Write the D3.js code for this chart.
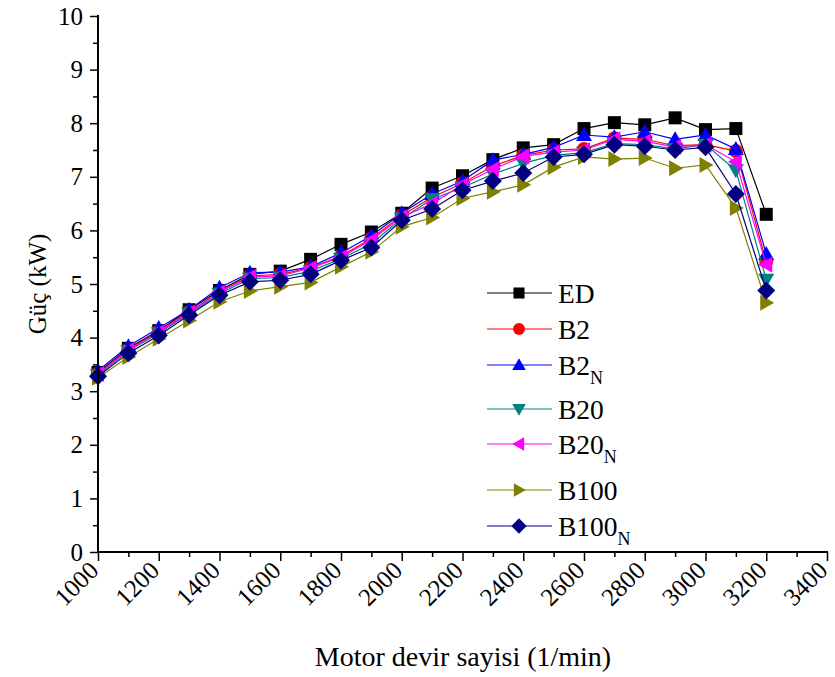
<!DOCTYPE html>
<html>
<head>
<meta charset="utf-8">
<script src="https://cdn.jsdelivr.net/npm/d3@7"></script>
<style>
  html, body { margin: 0; padding: 0; background: #fff; }
  svg { display: block; }
  text { font-family: "Liberation Serif", "Times New Roman", serif; fill: #000; }
</style>
</head>
<body>
<svg id="chart" width="835" height="677"></svg>
<script>
// Engine speed (1/min)
const rpm = [1000, 1100, 1200, 1300, 1400, 1500, 1600, 1700, 1800, 1900, 2000, 2100,
             2200, 2300, 2400, 2500, 2600, 2700, 2800, 2900, 3000, 3100, 3200];

// Power (kW) for each fuel
const ED    = [3.35, 3.80, 4.13, 4.52, 4.88, 5.18, 5.24, 5.46, 5.74, 5.97, 6.32, 6.79, 7.02, 7.32, 7.54, 7.60, 7.90, 8.01, 7.97, 8.10, 7.88, 7.90, 6.30];
const B2    = [3.33, 3.78, 4.12, 4.48, 4.85, 5.15, 5.18, 5.30, 5.52, 5.85, 6.28, 6.62, 6.88, 7.20, 7.40, 7.50, 7.52, 7.72, 7.70, 7.58, 7.60, 7.48, 5.42];
const B2N   = [3.38, 3.84, 4.18, 4.52, 4.93, 5.21, 5.22, 5.32, 5.58, 5.90, 6.32, 6.68, 6.92, 7.31, 7.42, 7.55, 7.78, 7.74, 7.84, 7.70, 7.78, 7.52, 5.56];
const B20   = [3.30, 3.75, 4.08, 4.45, 4.82, 5.10, 5.12, 5.24, 5.47, 5.75, 6.22, 6.58, 6.80, 7.05, 7.25, 7.40, 7.45, 7.62, 7.60, 7.52, 7.60, 7.12, 5.08];
const B20N  = [3.32, 3.77, 4.10, 4.47, 4.85, 5.13, 5.15, 5.30, 5.50, 5.82, 6.25, 6.50, 6.85, 7.14, 7.38, 7.46, 7.50, 7.70, 7.66, 7.56, 7.60, 7.28, 5.36];
const B100  = [3.25, 3.64, 3.98, 4.32, 4.67, 4.87, 4.95, 5.03, 5.32, 5.60, 6.07, 6.24, 6.60, 6.72, 6.85, 7.18, 7.37, 7.33, 7.35, 7.16, 7.22, 6.42, 4.65];
const B100N = [3.28, 3.71, 4.04, 4.42, 4.79, 5.04, 5.07, 5.18, 5.44, 5.68, 6.19, 6.40, 6.75, 6.92, 7.07, 7.37, 7.42, 7.60, 7.57, 7.50, 7.55, 6.68, 4.88];

// Axis ticks
const xTicks = [1000, 1200, 1400, 1600, 1800, 2000, 2200, 2400, 2600, 2800, 3000, 3200, 3400];
const yTicks = [0, 1, 2, 3, 4, 5, 6, 7, 8, 9, 10];

// Series: name, subscript, values, colour, marker
const seriesNames  = ["ED", "B2", "B2", "B20", "B20", "B100", "B100"];
const seriesSubs   = ["", "", "N", "", "N", "", "N"];
const seriesValues = [ED, B2, B2N, B20, B20N, B100, B100N];
const seriesColors = ["#000000", "#ff0000", "#0000ff", "#008080", "#ff00ff", "#808000", "#000080"];
const seriesShapes = ["square", "circle", "up", "down", "left", "right", "diamond"];

const svg = d3.select("#chart");
const plotLeft = 98, plotRight = 827, plotTop = 16, plotBottom = 552;

const x = d3.scaleLinear().domain([1000, 3400]).range([plotLeft, plotRight]);
const y = d3.scaleLinear().domain([0, 10]).range([plotBottom, plotTop]);

// Marker path generators (centred on 0,0)
function markerPath(shape) {
  switch (shape) {
    case "square":  return "M-6.5,-6.5H6.5V6.5H-6.5Z";
    case "circle":  return "M-7,0A7,7 0 1,0 7,0A7,7 0 1,0 -7,0Z";
    case "up":      return "M0,-8L8,6L-8,6Z";
    case "down":    return "M0,8L8,-6L-8,-6Z";
    case "left":    return "M-8,0L6,-8L6,8Z";
    case "right":   return "M8,0L-6,-8L-6,8Z";
    case "diamond": return "M0,-9L9,0L0,9L-9,0Z";
  }
}

// Series lines and markers
const line = d3.line().x((d, i) => x(rpm[i])).y(d => y(d));
seriesValues.forEach((vals, k) => {
  const g = svg.append("g");
  g.append("path")
    .attr("d", line(vals))
    .attr("fill", "none")
    .attr("stroke", seriesColors[k])
    .attr("stroke-width", 1.2);
  g.selectAll("path.m")
    .data(vals)
    .enter().append("path")
    .attr("class", "m")
    .attr("d", markerPath(seriesShapes[k]))
    .attr("transform", (d, i) => `translate(${x(rpm[i])},${y(d)})`)
    .attr("fill", seriesColors[k]);
});

// X axis
const xAxisG = svg.append("g").attr("transform", `translate(0,${plotBottom})`);
xAxisG.call(d3.axisBottom(x).tickValues(d3.range(1000, 3401, 100)).tickSize(5).tickFormat(""))
  .call(g => g.select(".domain").remove());
xAxisG.selectAll(".tick line").attr("stroke", "#000").attr("stroke-width", 1.5)
  .attr("y2", d => d % 200 === 0 ? 9 : 5);
xAxisG.append("line").attr("x1", plotLeft - 1).attr("x2", plotRight + 1).attr("y1", 0).attr("y2", 0)
  .attr("stroke", "#000").attr("stroke-width", 2);
xAxisG.selectAll("text.xl")
  .data(xTicks)
  .enter().append("text")
  .attr("class", "xl")
  .attr("text-anchor", "end")
  .attr("font-size", 25)
  .attr("transform", d => `translate(${x(d) + 2},${20}) rotate(-45)`)
  .text(d => d);

// Y axis
const yAxisG = svg.append("g").attr("transform", `translate(${plotLeft},0)`);
yAxisG.call(d3.axisLeft(y).tickValues(d3.range(0, 10.01, 0.5)).tickSize(5).tickFormat(""))
  .call(g => g.select(".domain").remove());
yAxisG.selectAll(".tick line").attr("stroke", "#000").attr("stroke-width", 1.5)
  .attr("x2", d => Math.abs(d - Math.round(d)) < 1e-6 ? -8 : -5);
yAxisG.append("line").attr("x1", 0).attr("x2", 0).attr("y1", plotTop - 1).attr("y2", plotBottom + 1)
  .attr("stroke", "#000").attr("stroke-width", 2);
yAxisG.selectAll("text.yl")
  .data(yTicks)
  .enter().append("text")
  .attr("class", "yl")
  .attr("text-anchor", "end")
  .attr("font-size", 25)
  .attr("x", -15)
  .attr("y", d => y(d) + 8.5)
  .text(d => d);

// Axis titles
svg.append("text")
  .attr("text-anchor", "middle")
  .attr("font-size", 25)
  .attr("transform", `translate(46,${(plotTop + plotBottom) / 2}) rotate(-90)`)
  .text("Güç (kW)");
svg.append("text")
  .attr("text-anchor", "middle")
  .attr("font-size", 28)
  .attr("x", 463)
  .attr("y", 666)
  .text("Motor devir sayisi (1/min)");

// Legend
const legendRows = [293, 329, 365, 409, 444, 490, 526];
seriesNames.forEach((name, k) => {
  const ly = legendRows[k];
  const g = svg.append("g");
  g.append("line").attr("x1", 487).attr("x2", 552).attr("y1", ly).attr("y2", ly)
    .attr("stroke", seriesColors[k]).attr("stroke-width", 1.2);
  g.append("path").attr("d", markerPath(seriesShapes[k]))
    .attr("transform", `translate(519,${ly}) scale(0.85)`)
    .attr("fill", seriesColors[k]);
  const t = g.append("text").attr("x", 558).attr("y", ly + 9.5).attr("font-size", 27.5);
  t.append("tspan").text(name);
  if (seriesSubs[k]) {
    t.append("tspan").attr("font-size", 18).attr("dy", 9).text(seriesSubs[k]);
  }
});
</script>
</body>
</html>
